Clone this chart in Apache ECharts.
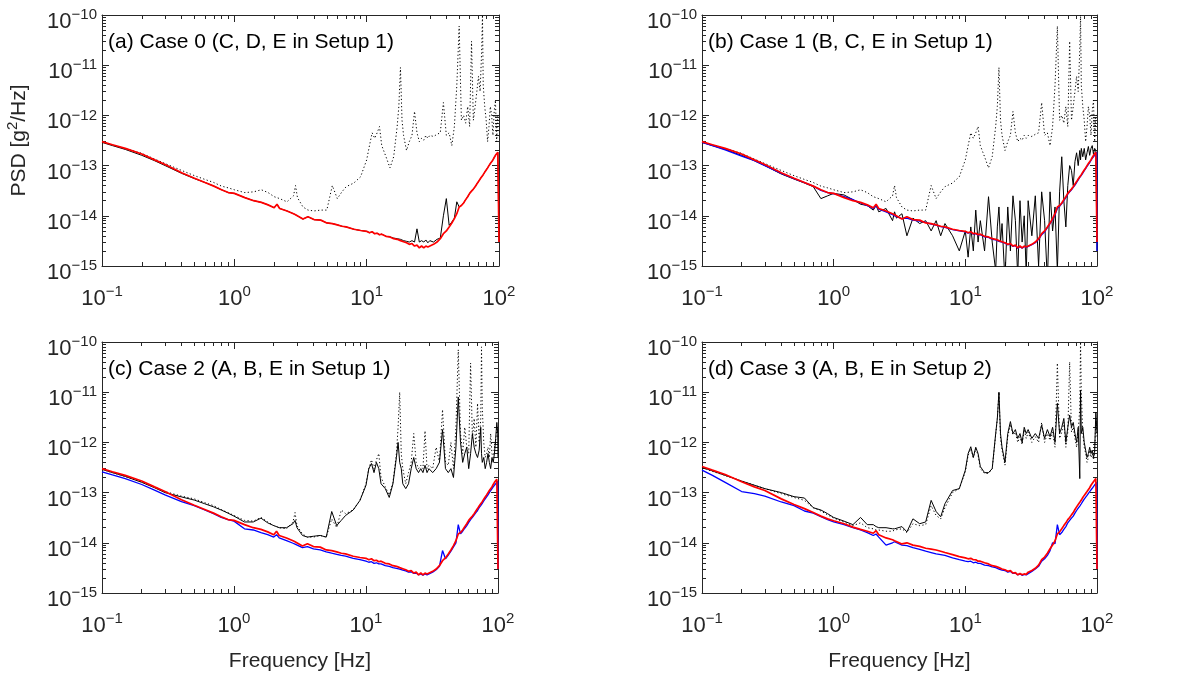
<!DOCTYPE html>
<html>
<head>
<meta charset="utf-8">
<script src="https://cdn.jsdelivr.net/npm/echarts@6.0.0/dist/echarts.min.js"></script>
<style>
html,body{margin:0;padding:0;background:#fff}
#chart{width:1203px;height:680px}
</style>
</head>
<body>
<div id="chart"></div>
<script>
// frequency grid [Hz], shared by every curve
var freq = [
  0.1, 0.12, 0.15, 0.2, 0.25, 0.3, 0.4, 0.5, 0.6, 0.7,
  0.8, 0.9, 1.0, 1.2, 1.4, 1.6, 1.8, 2.0, 2.1, 2.2,
  2.5, 2.8, 2.9, 3.0, 3.3, 3.6, 4.0, 4.5, 5.0, 5.5,
  6.0, 6.5, 7.0, 8.0, 9.0, 10, 10.5, 11, 11.5, 12,
  12.5, 13, 14, 15, 16, 17, 17.5, 18, 18.5, 19,
  20, 21, 22, 23, 24, 25, 26, 27, 28, 29,
  30, 32, 34, 36, 38, 40, 42, 44, 46, 48,
  50, 52, 54, 56, 58, 60, 62, 64, 66, 68,
  70, 72, 74, 75, 76, 78, 80, 82, 84, 86,
  88, 90, 92, 94, 96, 98, 99.5, 100
];

// raw (dotted) curve, panels a and b
var dottedAB = [
  3.0e-13, 2.6e-13, 2.2e-13, 1.75e-13, 1.35e-13, 1.1e-13, 8.0e-14, 6.3e-14, 5.3e-14, 4.6e-14,
  3.9e-14, 3.6e-14, 3.3e-14, 2.9e-14, 3.0e-14, 3.3e-14, 2.9e-14, 2.4e-14, 2.3e-14, 2.2e-14,
  1.9e-14, 2.5e-14, 4.0e-14, 2.3e-14, 1.5e-14, 1.3e-14, 1.25e-14, 1.3e-14, 1.3e-14, 4.0e-14,
  2.2e-14, 3.0e-14, 3.8e-14, 4.5e-14, 6.0e-14, 1.3e-13, 2.5e-13, 4.5e-13, 3.5e-13, 4.5e-13,
  6.0e-13, 2.5e-13, 1.5e-13, 9.0e-14, 1.5e-13, 6.0e-13, 1.5e-12, 9.0e-12, 8.0e-13, 4.0e-13,
  2.0e-13, 3.0e-13, 4.0e-13, 1.2e-12, 4.5e-13, 3.0e-13, 3.5e-13, 3.2e-13, 4.0e-13, 3.5e-13,
  4.0e-13, 3.8e-13, 4.2e-13, 4.5e-13, 1.8e-12, 4.0e-13, 4.5e-13, 2.5e-13, 6.0e-13, 4.0e-12,
  6.0e-11, 8.0e-13, 1.0e-12, 7.0e-13, 1.5e-12, 6.0e-13, 3.0e-11, 8.0e-13, 1.5e-12, 3.0e-12,
  6.0e-12, 3.0e-12, 2.0e-11, 1.0e-10, 4.0e-12, 1.5e-12, 8.0e-13, 3.0e-13, 6.0e-13, 1.5e-12,
  1.0e-12, 4.0e-13, 1.2e-12, 2.0e-12, 3.0e-13, 1.0e-12, 1.0e-12, 1.0e-12
];

// sensor E, setup 1 (red), panels a, b, c
var redE1 = [
  3.0e-13, 2.6e-13, 2.2e-13, 1.7e-13, 1.3e-13, 1.05e-13, 7.2e-14, 5.6e-14, 4.6e-14, 3.9e-14,
  3.3e-14, 2.9e-14, 2.8e-14, 2.3e-14, 2.0e-14, 1.85e-14, 1.65e-14, 1.45e-14, 1.7e-14, 1.4e-14,
  1.25e-14, 1.1e-14, 1.05e-14, 1.0e-14, 8.6e-15, 9.6e-15, 8.4e-15, 8.2e-15, 7.2e-15, 7.0e-15,
  6.6e-15, 6.2e-15, 6.0e-15, 5.4e-15, 5.1e-15, 4.9e-15, 4.6e-15, 4.8e-15, 4.4e-15, 4.5e-15,
  4.2e-15, 4.3e-15, 3.9e-15, 3.8e-15, 3.5e-15, 3.4e-15, 3.3e-15, 3.2e-15, 3.0e-15, 3.05e-15,
  2.9e-15, 2.7e-15, 2.8e-15, 2.5e-15, 2.6e-15, 2.3e-15, 2.5e-15, 2.3e-15, 2.5e-15, 2.4e-15,
  2.6e-15, 2.7e-15, 3.0e-15, 3.5e-15, 4.4e-15, 5.0e-15, 6.0e-15, 7.2e-15, 8.8e-15, 1.1e-14,
  1.5e-14, 1.6e-14, 1.8e-14, 2.1e-14, 2.4e-14, 2.8e-14, 3.1e-14, 3.4e-14, 3.8e-14, 4.3e-14,
  4.8e-14, 5.4e-14, 6.0e-14, 6.3e-14, 6.6e-14, 7.4e-14, 8.2e-14, 9.0e-14, 1.0e-13, 1.1e-13,
  1.2e-13, 1.3e-13, 1.45e-13, 1.6e-13, 1.7e-13, 1.85e-13, 2.0e-13, 3.0e-15
];

// panel a, corrected (black)
var blackA = [
  2.9e-13, 2.5e-13, 2.1e-13, 1.6e-13, 1.25e-13, 1.0e-13, 7.0e-14, 5.5e-14, 4.6e-14, 3.9e-14,
  3.3e-14, 2.9e-14, 2.8e-14, 2.3e-14, 2.0e-14, 1.85e-14, 1.65e-14, 1.45e-14, 1.7e-14, 1.4e-14,
  1.25e-14, 1.1e-14, 1.05e-14, 1.0e-14, 8.6e-15, 9.6e-15, 8.4e-15, 8.2e-15, 7.2e-15, 7.0e-15,
  6.6e-15, 6.2e-15, 6.0e-15, 5.4e-15, 5.1e-15, 4.9e-15, 4.6e-15, 4.8e-15, 4.4e-15, 4.5e-15,
  4.2e-15, 4.3e-15, 3.9e-15, 3.8e-15, 3.6e-15, 3.5e-15, 3.4e-15, 3.4e-15, 3.3e-15, 3.2e-15,
  3.1e-15, 3.0e-15, 3.2e-15, 3.0e-15, 5.5e-15, 3.0e-15, 3.2e-15, 3.0e-15, 3.3e-15, 2.9e-15,
  3.2e-15, 3.0e-15, 3.4e-15, 3.6e-15, 1.0e-14, 2.2e-14, 6.5e-15, 7.5e-15, 9.0e-15, 1.9e-14,
  1.5e-14, 1.6e-14, 1.8e-14, 2.1e-14, 2.4e-14, 2.8e-14, 3.1e-14, 3.4e-14, 3.8e-14, 4.3e-14,
  4.8e-14, 5.4e-14, 6.0e-14, 6.3e-14, 6.6e-14, 7.4e-14, 8.2e-14, 9.0e-14, 1.0e-13, 1.1e-13,
  1.2e-13, 1.3e-13, 1.45e-13, 1.6e-13, 1.7e-13, 1.85e-13, 2.0e-13, 3.0e-15
];

// panel b
var blackB = [
  2.9e-13, 2.5e-13, 2.1e-13, 1.6e-13, 1.25e-13, 1.0e-13, 6.8e-14, 5.4e-14, 4.5e-14, 3.8e-14,
  2.2e-14, 2.5e-14, 2.8e-14, 2.6e-14, 2.1e-14, 1.7e-14, 1.6e-14, 1.3e-14, 1.6e-14, 1.2e-14,
  1.4e-14, 8.0e-15, 1.2e-14, 9.0e-15, 1.1e-14, 4.0e-15, 9.0e-15, 7.0e-15, 8.0e-15, 5.0e-15,
  8.0e-15, 4.0e-15, 7.0e-15, 4.0e-15, 2.0e-15, 5.0e-15, 1.5e-15, 6.0e-15, 2.0e-15, 1.3e-14,
  3.0e-15, 8.0e-15, 2.0e-15, 2.4e-14, 3.0e-15, 8.0e-16, 6.0e-15, 1.5e-14, 3.0e-15, 7.0e-15,
  5.0e-16, 1.5e-14, 2.0e-15, 2.5e-14, 8.0e-15, 6.0e-16, 2.0e-14, 3.0e-15, 1.0e-14, 7.0e-16,
  2.0e-14, 4.0e-15, 2.5e-14, 1.0e-15, 3.0e-14, 8.0e-15, 5.0e-16, 3.0e-14, 5.0e-15, 1.5e-14,
  8.0e-16, 3.0e-14, 1.5e-13, 2.0e-14, 6.0e-15, 4.0e-14, 1.0e-13, 8.0e-14, 4.0e-14, 1.2e-13,
  1.8e-13, 1.0e-13, 2.0e-13, 1.3e-13, 2.2e-13, 1.5e-13, 2.2e-13, 1.3e-13, 1.8e-13, 2.4e-13,
  1.6e-13, 2.2e-13, 2.5e-13, 1.7e-13, 2.2e-13, 2.0e-13, 2.1e-13, 2.0e-15
];
var blueB = [
  2.9e-13, 2.5e-13, 2.05e-13, 1.55e-13, 1.25e-13, 1.0e-13, 7.0e-14, 5.5e-14, 4.6e-14, 3.9e-14,
  3.2e-14, 2.9e-14, 2.75e-14, 2.4e-14, 2.1e-14, 1.8e-14, 1.6e-14, 1.4e-14, 1.6e-14, 1.35e-14,
  1.2e-14, 1.05e-14, 1.0e-14, 9.8e-15, 8.8e-15, 9.0e-15, 8.2e-15, 7.8e-15, 7.4e-15, 6.8e-15,
  6.5e-15, 6.1e-15, 5.9e-15, 5.3e-15, 5.0e-15, 4.8e-15, 4.5e-15, 4.7e-15, 4.3e-15, 4.4e-15,
  4.1e-15, 4.2e-15, 3.8e-15, 3.7e-15, 3.4e-15, 3.3e-15, 3.2e-15, 3.1e-15, 2.95e-15, 3.0e-15,
  2.85e-15, 2.65e-15, 2.75e-15, 2.45e-15, 2.55e-15, 2.25e-15, 2.45e-15, 2.25e-15, 2.45e-15, 2.35e-15,
  2.55e-15, 2.65e-15, 2.9e-15, 3.4e-15, 4.2e-15, 4.8e-15, 5.8e-15, 7.0e-15, 8.5e-15, 1.05e-14,
  1.4e-14, 1.55e-14, 1.75e-14, 2.0e-14, 2.3e-14, 2.7e-14, 3.0e-14, 3.3e-14, 3.7e-14, 4.1e-14,
  4.6e-14, 5.2e-14, 5.8e-14, 6.1e-14, 6.4e-14, 7.1e-14, 7.9e-14, 8.7e-14, 9.6e-14, 1.05e-13,
  1.15e-13, 1.25e-13, 1.4e-13, 1.5e-13, 1.6e-13, 1.75e-13, 1.85e-13, 2.0e-15
];

// panel c
var dottedC = [
  2.9e-13, 2.5e-13, 2.1e-13, 1.65e-13, 1.3e-13, 1.05e-13, 8.5e-14, 7.5e-14, 6.3e-14, 5.5e-14,
  4.6e-14, 4.0e-14, 3.5e-14, 2.8e-14, 2.7e-14, 3.2e-14, 2.6e-14, 2.2e-14, 2.1e-14, 2.0e-14,
  1.9e-14, 2.6e-14, 4.0e-14, 2.2e-14, 1.5e-14, 1.3e-14, 1.3e-14, 1.4e-14, 1.3e-14, 3.0e-14,
  2.0e-14, 4.5e-14, 3.8e-14, 4.5e-14, 7.0e-14, 1.5e-13, 3.0e-13, 4.5e-13, 3.0e-13, 4.5e-13,
  6.0e-13, 2.0e-13, 1.3e-13, 9.0e-14, 1.6e-13, 6.0e-13, 2.0e-12, 1.0e-11, 6.0e-13, 3.0e-13,
  1.5e-13, 2.5e-13, 4.0e-13, 1.5e-12, 4.0e-13, 3.0e-13, 3.5e-13, 3.0e-13, 1.7e-12, 3.0e-13,
  3.5e-13, 3.0e-13, 8.0e-13, 4.0e-13, 4.5e-12, 4.0e-13, 3.5e-13, 1.0e-12, 3.0e-13, 2.0e-12,
  7.0e-11, 1.5e-12, 6.0e-13, 2.0e-12, 8.0e-13, 6.0e-13, 3.8e-11, 1.2e-12, 3.0e-12, 8.0e-13,
  6.0e-12, 1.0e-12, 3.0e-12, 8.0e-11, 5.0e-12, 1.0e-12, 5.0e-13, 6.0e-13, 8.0e-13, 5.0e-13,
  1.5e-12, 6.0e-13, 5.0e-13, 8.0e-13, 1.0e-12, 2.0e-12, 1.5e-12, 1.2e-12
];
var blackC = [
  2.9e-13, 2.5e-13, 2.1e-13, 1.6e-13, 1.25e-13, 1.0e-13, 8.2e-14, 7.1e-14, 6.0e-14, 5.2e-14,
  4.5e-14, 3.9e-14, 3.4e-14, 2.6e-14, 2.6e-14, 3.1e-14, 2.5e-14, 2.2e-14, 2.1e-14, 2.0e-14,
  2.0e-14, 2.4e-14, 2.8e-14, 2.0e-14, 1.4e-14, 1.3e-14, 1.35e-14, 1.4e-14, 1.3e-14, 4.2e-14,
  2.2e-14, 2.8e-14, 3.5e-14, 4.5e-14, 7.0e-14, 1.4e-13, 3.0e-13, 3.8e-13, 2.5e-13, 4.0e-13,
  3.0e-13, 1.5e-13, 1.2e-13, 8.0e-14, 1.5e-13, 5.0e-13, 1.0e-12, 4.0e-13, 3.0e-13, 1.5e-13,
  1.2e-13, 1.5e-13, 3.0e-13, 5.0e-13, 3.0e-13, 2.5e-13, 3.0e-13, 2.5e-13, 3.5e-13, 2.5e-13,
  3.0e-13, 2.5e-13, 3.0e-13, 4.0e-13, 1.8e-12, 3.0e-13, 2.5e-13, 3.0e-13, 2.0e-13, 8.0e-13,
  8.0e-12, 1.0e-12, 4.0e-13, 6.0e-13, 8.0e-13, 3.0e-13, 6.0e-13, 1.5e-12, 8.0e-13, 6.0e-13,
  5.0e-13, 7.0e-13, 2.0e-12, 6.0e-13, 4.0e-13, 5.0e-13, 3.0e-13, 4.0e-13, 6.0e-13, 4.0e-13,
  3.0e-13, 5.0e-13, 4.0e-13, 6.0e-13, 1.2e-12, 2.5e-12, 1.5e-12, 5.0e-13
];
var blueC = [
  2.6e-13, 2.25e-13, 1.9e-13, 1.45e-13, 1.12e-13, 9.0e-14, 6.6e-14, 5.5e-14, 4.5e-14, 3.8e-14,
  3.2e-14, 2.9e-14, 2.7e-14, 1.9e-14, 1.8e-14, 1.6e-14, 1.45e-14, 1.3e-14, 1.45e-14, 1.25e-14,
  1.1e-14, 9.8e-15, 9.4e-15, 9.0e-15, 8.0e-15, 8.4e-15, 7.6e-15, 7.2e-15, 6.6e-15, 6.2e-15,
  5.9e-15, 5.6e-15, 5.4e-15, 4.9e-15, 4.6e-15, 4.3e-15, 4.1e-15, 4.2e-15, 3.9e-15, 4.0e-15,
  3.8e-15, 3.8e-15, 3.5e-15, 3.4e-15, 3.2e-15, 3.1e-15, 3.0e-15, 3.0e-15, 2.9e-15, 2.85e-15,
  2.75e-15, 2.6e-15, 2.65e-15, 2.45e-15, 2.5e-15, 2.3e-15, 2.4e-15, 2.25e-15, 2.4e-15, 2.3e-15,
  2.5e-15, 2.6e-15, 2.9e-15, 3.4e-15, 7.0e-15, 4.8e-15, 5.7e-15, 6.8e-15, 8.3e-15, 1.0e-14,
  2.3e-14, 1.5e-14, 1.7e-14, 1.95e-14, 2.2e-14, 2.55e-14, 2.9e-14, 3.2e-14, 3.5e-14, 4.0e-14,
  4.4e-14, 5.0e-14, 5.5e-14, 5.8e-14, 6.1e-14, 6.8e-14, 7.5e-14, 8.2e-14, 9.0e-14, 1.0e-13,
  1.1e-13, 1.2e-13, 1.3e-13, 1.4e-13, 1.5e-13, 1.6e-13, 1.7e-13, 3.0e-15
];

// panel d (setup 2)
var dottedD = [
  3.1e-13, 2.65e-13, 2.2e-13, 1.7e-13, 1.4e-13, 1.2e-13, 9.5e-14, 8.0e-14, 7.0e-14, 5.0e-14,
  4.3e-14, 3.6e-14, 3.1e-14, 2.6e-14, 2.2e-14, 2.5e-14, 2.0e-14, 1.9e-14, 1.8e-14, 1.8e-14,
  1.7e-14, 1.7e-14, 1.8e-14, 1.7e-14, 1.9e-14, 1.6e-14, 2.4e-14, 2.2e-14, 2.3e-14, 5.5e-14,
  3.5e-14, 3.0e-14, 5.0e-14, 1.0e-13, 1.2e-13, 2.6e-13, 5.5e-13, 7.5e-13, 5.0e-13, 7.5e-13,
  5.5e-13, 3.0e-13, 2.4e-13, 2.4e-13, 3.0e-13, 1.4e-12, 3.0e-12, 1.0e-11, 1.2e-12, 7.0e-13,
  3.5e-13, 1.3e-12, 2.3e-12, 1.4e-12, 1.6e-12, 1.0e-12, 1.3e-12, 9.0e-13, 1.8e-12, 1.2e-12,
  1.6e-12, 1.0e-12, 1.3e-12, 1.0e-12, 2.5e-12, 1.0e-12, 1.5e-12, 1.1e-12, 1.6e-12, 8.0e-13,
  3.8e-11, 1.2e-12, 1.6e-12, 2.5e-12, 8.0e-13, 1.6e-12, 4.0e-11, 1.6e-12, 2.0e-12, 1.2e-12,
  8.0e-13, 1.6e-12, 5.0e-12, 1.0e-10, 1.0e-11, 1.5e-12, 8.0e-13, 6.0e-13, 4.0e-13, 5.0e-13,
  7.0e-13, 5.0e-13, 6.0e-13, 4.5e-13, 6.0e-13, 3.0e-12, 1.8e-12, 1.2e-12
];
var blackD = [
  3.2e-13, 2.7e-13, 2.2e-13, 1.7e-13, 1.4e-13, 1.2e-13, 1.0e-13, 8.3e-14, 7.8e-14, 5.0e-14,
  4.5e-14, 3.8e-14, 3.2e-14, 2.7e-14, 2.3e-14, 3.2e-14, 2.3e-14, 2.3e-14, 2.1e-14, 2.0e-14,
  2.0e-14, 1.9e-14, 1.9e-14, 1.8e-14, 2.1e-14, 1.65e-14, 3.0e-14, 2.4e-14, 2.6e-14, 7.0e-14,
  4.2e-14, 3.3e-14, 6.0e-14, 1.1e-13, 1.2e-13, 2.8e-13, 6.0e-13, 8.2e-13, 5.0e-13, 8.0e-13,
  6.0e-13, 3.3e-13, 2.5e-13, 2.5e-13, 3.0e-13, 1.5e-12, 3.0e-12, 1.0e-11, 1.5e-12, 8.0e-13,
  4.0e-13, 1.5e-12, 2.6e-12, 1.5e-12, 1.8e-12, 1.2e-12, 1.5e-12, 1.0e-12, 2.0e-12, 1.5e-12,
  1.8e-12, 1.2e-12, 1.5e-12, 1.2e-12, 2.2e-12, 1.2e-12, 1.8e-12, 1.3e-12, 2.0e-12, 1.0e-12,
  6.0e-12, 1.5e-12, 2.0e-12, 3.0e-12, 1.0e-12, 2.0e-12, 3.5e-12, 2.0e-12, 2.5e-12, 1.5e-12,
  1.0e-12, 2.0e-12, 1.9e-13, 1.1e-11, 1.5e-12, 2.0e-12, 1.0e-12, 7.0e-13, 5.0e-13, 6.0e-13,
  8.0e-13, 6.0e-13, 7.0e-13, 5.0e-13, 7.0e-13, 4.0e-12, 2.0e-12, 1.5e-12
];
var blueD = [
  2.8e-13, 2.2e-13, 1.6e-13, 1.05e-13, 9.5e-14, 8.5e-14, 6.5e-14, 5.5e-14, 4.3e-14, 3.9e-14,
  3.3e-14, 2.9e-14, 2.6e-14, 2.3e-14, 2.0e-14, 1.8e-14, 1.6e-14, 1.4e-14, 1.5e-14, 1.3e-14,
  9.0e-15, 1.0e-14, 1.05e-14, 1.05e-14, 9.0e-15, 8.8e-15, 8.0e-15, 7.4e-15, 6.8e-15, 6.4e-15,
  6.0e-15, 5.8e-15, 5.6e-15, 5.0e-15, 4.6e-15, 4.3e-15, 4.2e-15, 4.3e-15, 4.0e-15, 4.1e-15,
  3.9e-15, 3.9e-15, 3.6e-15, 3.5e-15, 3.3e-15, 3.2e-15, 3.1e-15, 3.0e-15, 2.9e-15, 2.85e-15,
  2.8e-15, 2.6e-15, 2.7e-15, 2.45e-15, 2.5e-15, 2.3e-15, 2.4e-15, 2.25e-15, 2.35e-15, 2.3e-15,
  2.5e-15, 2.7e-15, 3.0e-15, 3.4e-15, 4.3e-15, 4.8e-15, 5.6e-15, 7.0e-15, 1.0e-14, 9.6e-15,
  2.3e-14, 1.45e-14, 1.6e-14, 1.85e-14, 2.1e-14, 2.5e-14, 2.8e-14, 3.1e-14, 3.4e-14, 3.9e-14,
  4.4e-14, 4.9e-14, 5.4e-14, 5.7e-14, 6.0e-14, 6.7e-14, 7.4e-14, 8.1e-14, 8.8e-14, 9.5e-14,
  1.05e-13, 1.12e-13, 1.22e-13, 1.32e-13, 1.42e-13, 1.52e-13, 1.6e-13, 3.0e-15
];
var redD = [
  3.3e-13, 2.8e-13, 2.3e-13, 1.65e-13, 1.3e-13, 1.1e-13, 7.5e-14, 5.8e-14, 4.8e-14, 4.0e-14,
  3.4e-14, 3.0e-14, 2.75e-14, 2.4e-14, 2.05e-14, 1.85e-14, 1.7e-14, 1.55e-14, 1.75e-14, 1.45e-14,
  1.25e-14, 1.15e-14, 1.1e-14, 1.1e-14, 9.5e-15, 1.0e-14, 9.0e-15, 8.5e-15, 7.8e-15, 7.5e-15,
  7.2e-15, 6.8e-15, 6.4e-15, 5.8e-15, 5.3e-15, 5.0e-15, 4.8e-15, 4.9e-15, 4.6e-15, 4.6e-15,
  4.3e-15, 4.3e-15, 4.0e-15, 3.8e-15, 3.5e-15, 3.4e-15, 3.3e-15, 3.2e-15, 3.1e-15, 3.0e-15,
  2.9e-15, 2.7e-15, 2.8e-15, 2.5e-15, 2.55e-15, 2.3e-15, 2.45e-15, 2.3e-15, 2.4e-15, 2.35e-15,
  2.6e-15, 2.8e-15, 3.1e-15, 3.6e-15, 4.6e-15, 5.2e-15, 6.2e-15, 7.6e-15, 9.0e-15, 1.1e-14,
  1.5e-14, 1.65e-14, 1.9e-14, 2.2e-14, 2.5e-14, 2.9e-14, 3.2e-14, 3.6e-14, 4.0e-14, 4.6e-14,
  5.2e-14, 5.8e-14, 6.4e-14, 6.8e-14, 7.1e-14, 8.0e-14, 8.8e-14, 9.6e-14, 1.05e-13, 1.15e-13,
  1.25e-13, 1.4e-13, 1.5e-13, 1.65e-13, 1.75e-13, 1.9e-13, 2.0e-13, 3.0e-15
];

var titles = [
  '(a) Case 0 (C, D, E in Setup 1)',
  '(b) Case 1 (B, C, E in Setup 1)',
  '(c) Case 2 (A, B, E in Setup 1)',
  '(d) Case 3 (A, B, E in Setup 2)'
];

var FONT = '"Liberation Sans", Arial, Helvetica, sans-serif';
var AX = '#262626';
var grids = [
  {left: 102, top: 15, width: 397, height: 251},
  {left: 702, top: 15, width: 395, height: 251},
  {left: 102, top: 342, width: 396, height: 251},
  {left: 702, top: 342, width: 395, height: 251}
];

function powLabel(v) {
  var e = Math.round(Math.log(v) / Math.LN10);
  return '{b|10}{e|' + (e < 0 ? '\u2212' + (-e) : e) + '}';
}
var richLab = {
  b: {fontSize: 22, fontFamily: FONT, color: AX},
  e: {fontSize: 15, fontFamily: FONT, color: AX, padding: [0, 0, 14, 0]}
};

function logAxis(gi, pos, min, max, withLabel) {
  return {
    type: 'log', logBase: 10, gridIndex: gi, position: pos,
    min: min, max: max,
    axisLine: {show: true, onZero: false, lineStyle: {color: AX, width: 1}},
    axisTick: {show: true, inside: true, length: 7, lineStyle: {color: AX, width: 1}},
    minorTick: {show: true, splitNumber: 9, length: 4, lineStyle: {color: AX, width: 1}},
    splitLine: {show: false},
    axisLabel: {show: withLabel, formatter: powLabel, rich: richLab}
  };
}

var xAxes = [], yAxes = [], series = [], titleOpts = [];
grids.forEach(function (g, i) {
  var xb = logAxis(i, 'bottom', 0.1, 100, true);
  xb.axisLabel.margin = 18;
  if (i >= 2) {
    xb.name = 'Frequency [Hz]';
    xb.nameLocation = 'middle';
    xb.nameGap = 58;
    xb.nameTextStyle = {fontSize: 21, fontFamily: FONT, color: AX};
  }
  xAxes.push(xb, logAxis(i, 'top', 0.1, 100, false));
  var yl = logAxis(i, 'left', 1e-15, 1e-10, true);
  yl.axisLabel.margin = 5;
  yl.axisLabel.padding = [14, 0, 0, 0];
  if (i === 0) {
    yl.name = 'PSD [g{s|2}/Hz]';
    yl.nameLocation = 'middle';
    yl.nameGap = 68;
    yl.nameTextStyle = {fontSize: 21, fontFamily: FONT, color: AX,
      rich: {s: {fontSize: 15, fontFamily: FONT, color: AX, padding: [0, 0, 14, 0]}}};
  }
  yAxes.push(yl, logAxis(i, 'right', 1e-15, 1e-10, false));
  titleOpts.push({
    text: titles[i], left: g.left + 6, top: g.top + 15, padding: 0,
    textStyle: {fontSize: 21, fontWeight: 'normal', fontFamily: FONT, color: '#000', lineHeight: 24}
  });
});

function line(vals, gi, color, dotted, width) {
  if (vals.length !== freq.length) throw new Error('length mismatch: ' + vals.length + ' vs ' + freq.length);
  return {
    type: 'line', xAxisIndex: gi * 2, yAxisIndex: gi * 2,
    data: freq.map(function (f, k) { return [f, vals[k]]; }),
    symbol: 'none', silent: true, animation: false,
    lineStyle: {color: color, width: width || 1, type: dotted ? [1.2, 2.4] : 'solid'},
    itemStyle: {color: color}
  };
}

series.push(
  line(dottedAB, 0, '#000', true), line(blackA, 0, '#000'), line(redE1, 0, '#ff0000', false, 1.7),
  line(dottedAB, 1, '#000', true), line(blackB, 1, '#000'), line(blueB, 1, '#0000ff', false, 1.3), line(redE1, 1, '#ff0000', false, 1.7),
  line(dottedC, 2, '#000', true), line(blackC, 2, '#000'), line(blueC, 2, '#0000ff', false, 1.3), line(redE1, 2, '#ff0000', false, 1.7),
  line(dottedD, 3, '#000', true), line(blackD, 3, '#000'), line(blueD, 3, '#0000ff', false, 1.3), line(redD, 3, '#ff0000', false, 1.7)
);

var chart = echarts.init(document.getElementById('chart'), null, {renderer: 'canvas'});
chart.setOption({
  backgroundColor: '#fff',
  animation: false,
  title: titleOpts,
  grid: grids,
  xAxis: xAxes,
  yAxis: yAxes,
  series: series
});
</script>
</body>
</html>
